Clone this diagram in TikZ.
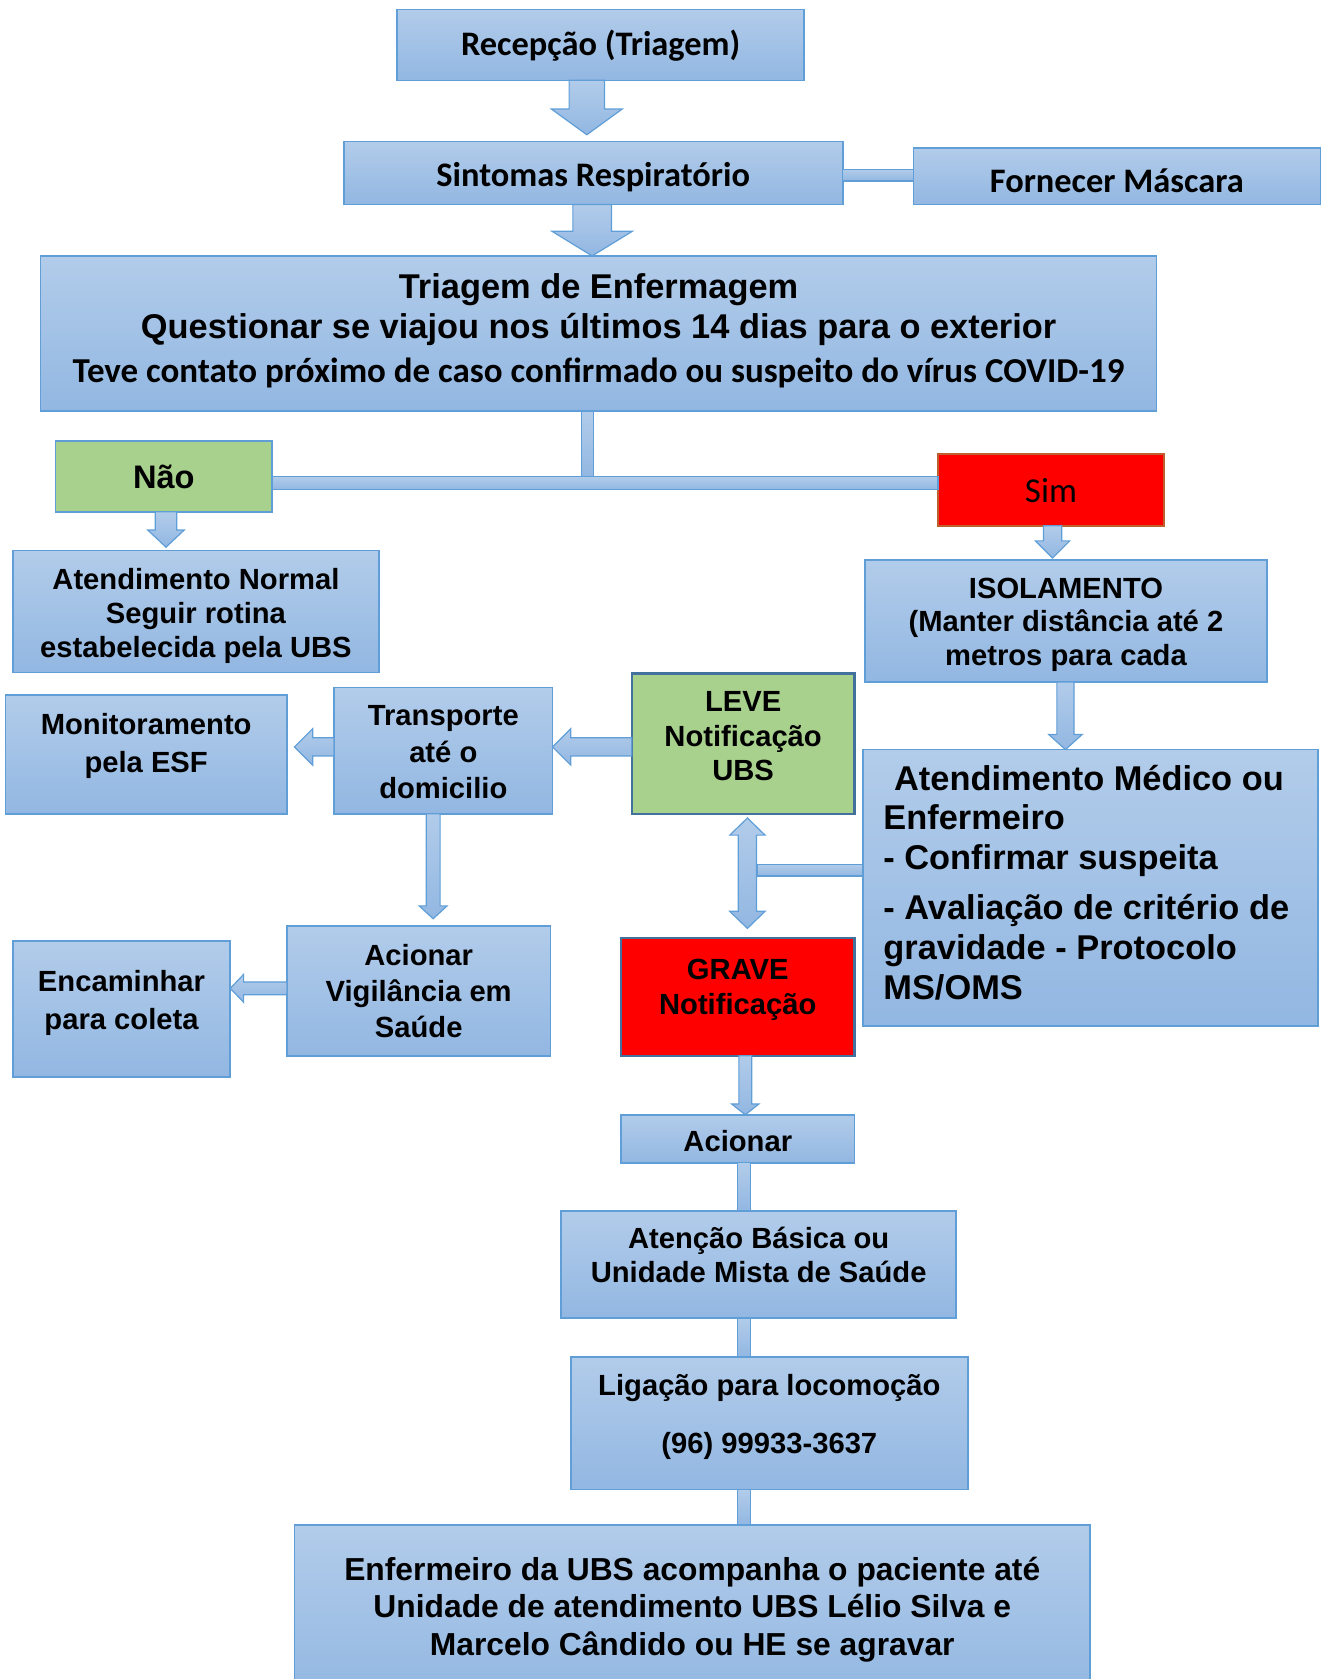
\documentclass[tikz,border=0pt]{standalone}
\usepackage{fontspec}
\newfontfamily\arb{Liberation Sans}
\newfontfamily\calb{Carlito}
\usetikzlibrary{calc}
\definecolor{gtop}{RGB}{178,204,234}
\definecolor{gbot}{RGB}{146,183,226}
\definecolor{bord}{RGB}{96,158,215}
\definecolor{dbord}{RGB}{65,113,156}
\definecolor{gfill}{RGB}{169,209,142}
\definecolor{rfill}{RGB}{255,0,0}
\definecolor{obord}{RGB}{190,95,45}
\def\pxu{0.5356pt}

\tikzset{
  x=0.5356pt, y=-0.5356pt,
  bluebox/.style={draw=bord, line width=0.8pt, top color=gtop, bottom color=gbot, inner sep=0pt, outer sep=0pt},
  greenbox/.style={draw=bord, line width=0.8pt, fill=gfill, inner sep=0pt, outer sep=0pt},
  leavebox/.style={draw=dbord, line width=1.1pt, fill=gfill, inner sep=0pt, outer sep=0pt},
  gravebox/.style={draw=dbord, line width=1.1pt, fill=rfill, inner sep=0pt, outer sep=0pt},
  simbox/.style={draw=obord, line width=0.8pt, fill=rfill, inner sep=0pt, outer sep=0pt},
  blk/.style={draw=bord, line width=0.6pt, top color=gtop, bottom color=gbot, line join=miter},
  txt/.style={inner sep=0pt, outer sep=0pt, text=black, align=center, font=\arb\bfseries\fontsize{14.6}{17.5}\selectfont},
  fs/.style 2 args={font=\arb\bfseries\fontsize{#1}{#2}\selectfont},
  cs/.style 2 args={font=\calb\bfseries\fontsize{#1}{#2}\selectfont},
}

% box: name, x1, y1, x2, y2, box style, text dy, text options, text
\newcommand\bx[9]{%
  \node[#6, minimum width={(#4-#2)*\pxu}, minimum height={(#5-#3)*\pxu}] (#1) at ({(#2+#4)/2},{(#3+#5)/2}) {};
  \node[txt, #8] (#1-t) at ([yshift={-(#7)*\pxu}]#1.center) {#9};
}
% down block arrow: x, from, to, shaft half, head half, head length
\newcommand\vdown[6]{%
  \path[blk] let \p1=(#2), \p2=(#3) in
    ({(#1-#4)*\pxu},\y1) -- ({(#1-#4)*\pxu},{\y2+#6*\pxu}) -- ({(#1-#5)*\pxu},{\y2+#6*\pxu})
    -- ({#1*\pxu},\y2) -- ({(#1+#5)*\pxu},{\y2+#6*\pxu}) -- ({(#1+#4)*\pxu},{\y2+#6*\pxu})
    -- ({(#1+#4)*\pxu},\y1) -- cycle;}
% left block arrow: y, from (right), to (left), shaft half, head half, head length
\newcommand\hleft[6]{%
  \path[blk] let \p1=(#2), \p2=(#3) in
    (\x1,{-(#1-#4)*\pxu}) -- ({\x2+#6*\pxu},{-(#1-#4)*\pxu}) -- ({\x2+#6*\pxu},{-(#1-#5)*\pxu})
    -- (\x2,{-#1*\pxu}) -- ({\x2+#6*\pxu},{-(#1+#5)*\pxu}) -- ({\x2+#6*\pxu},{-(#1+#4)*\pxu})
    -- (\x1,{-(#1+#4)*\pxu}) -- cycle;}
% vertical double block arrow: x, top tip, bottom tip, shaft half, head half, head length
\newcommand\vdouble[6]{%
  \path[blk] let \p1=(#2), \p2=(#3) in
    ({#1*\pxu},\y1) -- ({(#1+#5)*\pxu},{\y1-#6*\pxu}) -- ({(#1+#4)*\pxu},{\y1-#6*\pxu})
    -- ({(#1+#4)*\pxu},{\y2+#6*\pxu}) -- ({(#1+#5)*\pxu},{\y2+#6*\pxu}) -- ({#1*\pxu},\y2)
    -- ({(#1-#5)*\pxu},{\y2+#6*\pxu}) -- ({(#1-#4)*\pxu},{\y2+#6*\pxu})
    -- ({(#1-#4)*\pxu},{\y1-#6*\pxu}) -- ({(#1-#5)*\pxu},{\y1-#6*\pxu}) -- cycle;}
% vertical bar: x, from, to, half width
\newcommand\vbarr[4]{%
  \path[blk] let \p1=(#2), \p2=(#3) in
    ({(#1-#4)*\pxu},\y1) rectangle ({(#1+#4)*\pxu},\y2);}
% horizontal bar: y, from, to, half width
\newcommand\hbarr[4]{%
  \path[blk] let \p1=(#2), \p2=(#3) in
    (\x1,{-(#1-#4)*\pxu}) rectangle (\x2,{-(#1+#4)*\pxu});}

\begin{document}
\begin{tikzpicture}
\path[use as bounding box] (0,0) rectangle (1237,1568);
\clip (0,0) rectangle (1237,1568);

\bx{rec}{371}{9}{751}{75}{bluebox}{1}{cs={17.2}{20}}{Recepção (Triagem)}
\bx{sin}{321}{132}{787}{191}{bluebox}{4}{cs={17.2}{20}}{Sintomas Respiratório}
\bx{forn}{853}{138}{1233}{191}{bluebox}{4.5}{cs={17.2}{20}}{Fornecer Máscara}
\bx{tri}{38}{239}{1080}{384}{bluebox}{-2.5}{fs={17.2}{19.8}}{Triagem de Enfermagem\\ Questionar se viajou nos últimos 14 dias para o exterior\\[2.2pt] {\calb\fontsize{17.5}{19.8}\selectfont Teve contato próximo de caso confirmado ou suspeito do vírus COVID-19}}
\bx{nao}{52}{412}{254}{478}{greenbox}{0}{fs={16.3}{19}}{Não}
\bx{sim}{876}{424}{1087}{491}{simbox}{1}{font=\calb\mdseries\fontsize{17.5}{20}\selectfont}{Sim}
\bx{atn}{12}{514}{354}{628}{bluebox}{4}{fs={14.6}{17.1}}{Atendimento Normal\\ Seguir rotina\\ estabelecida pela UBS}
\bx{iso}{808}{523}{1183}{637}{bluebox}{3.5}{fs={14.6}{16.9}}{ISOLAMENTO\\ (Manter distância até 2\\ metros para cada}
\bx{med}{806}{700}{1231}{958}{bluebox}{0}{}{}
\bx{leve}{590}{629}{798}{760}{leavebox}{-7}{fs={14.6}{17.4}}{LEVE\\ Notificação\\ UBS}
\bx{tra}{312}{642}{516}{760}{bluebox}{1.5}{fs={14.6}{18.2}}{Transporte\\ até o\\ domicilio}
\bx{mon}{5}{649}{268}{760}{bluebox}{-8}{fs={14.6}{19.3}}{Monitoramento\\ pela ESF}
\bx{vig}{268}{865}{514}{986}{bluebox}{0}{fs={14.6}{18.2}}{Acionar\\ Vigilância em\\ Saúde}
\bx{enc}{12}{879}{215}{1006}{bluebox}{-6}{fs={14.6}{18.7}}{Encaminhar\\ para coleta}
\bx{grave}{580}{876}{798}{986}{gravebox}{-6.5}{fs={14.6}{17.7}}{GRAVE\\ Notificação}
\bx{acio}{580}{1041}{798}{1086}{bluebox}{2}{fs={14.6}{17.5}}{Acionar}
\bx{aten}{524}{1131}{893}{1231}{bluebox}{-9}{fs={14.6}{16.6}}{Atenção Básica ou\\ Unidade Mista de Saúde}
\bx{lig}{533}{1267}{904}{1391}{bluebox}{-6}{fs={14.6}{17.5}}{Ligação para locomoção\\[11.4pt] (96) 99933-3637}
\bx{enf}{275}{1424}{1018}{1590}{bluebox}{-4}{fs={15.9}{18.75}}{Enfermeiro da UBS acompanha o paciente até\\ Unidade de atendimento UBS Lélio Silva e\\ Marcelo Cândido ou HE se agravar}

% text of the Atendimento Médico box
\begin{scope}[every node/.style={txt, anchor=base west, fs={17.2}{19.8}}]
\node (med-1) at (835,738) {Atendimento Médico ou};
\node (med-2) at (825,775) {Enfermeiro};
\node (med-3) at (825,812) {- Confirmar suspeita};
\node (med-4) at (825,859) {- Avaliação de critério de};
\node (med-5) at (825,896) {gravidade - Protocolo};
\node (med-6) at (825,933) {MS/OMS};
\end{scope}

\coordinate (jn) at (548.5,445);
\coordinate (dj) at (707,812.5);

% connectors
\vdown{548}{rec.south}{[yshift=3.3pt]sin.north}{16.5}{33}{24}
\hbarr{163.5}{sin.east}{forn.west}{5.5}
\vdown{553}{sin.south}{tri.north}{18}{37.5}{23}
\hbarr{451}{nao.east}{sim.west}{6}
\vbarr{548.5}{tri.south}{jn}{5.5}
\vdown{155}{nao.south}{[yshift=1.6pt]atn.north}{10}{17}{16}
\vdown{983}{sim.south}{[yshift=1pt]iso.north}{8.5}{16}{16}
\vdown{995}{iso.south}{med.north}{8}{15.5}{14}
\hleft{697.5}{leve.west}{tra.east}{8.5}{17}{17}
\hleft{697.5}{tra.west}{[xshift=3.75pt]mon.east}{8.5}{17}{17}
\vdown{404.5}{tra.south}{[yshift=3.75pt]vig.north}{6.5}{13}{12}
\hleft{923}{vig.west}{enc.east}{6}{13}{12.5}
\hbarr{812.5}{med.west}{dj}{5.5}
\vdouble{698}{[yshift=-2.1pt]leve.south}{[yshift=4.8pt]grave.north}{8.5}{16.5}{16}
\vdown{696}{grave.south}{acio.north}{6}{12.7}{10}
\vbarr{695}{acio.south}{aten.north}{6}
\vbarr{695}{aten.south}{lig.north}{6}
\vbarr{695}{lig.south}{enf.north}{6}
\end{tikzpicture}
\end{document}
